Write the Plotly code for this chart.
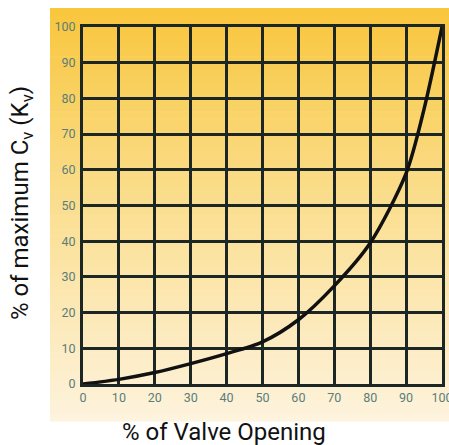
import plotly.graph_objects as go

valve_opening = [0, 10, 20, 30, 40, 50, 60, 70, 80, 90, 95, 100]
cv_percent = [0, 1.3, 3.2, 5.7, 8.5, 11.8, 18, 27.5, 39.5, 59, 77, 100]
tick_vals = [0, 10, 20, 30, 40, 50, 60, 70, 80, 90, 100]
tick_text = [str(v) for v in tick_vals]

W, H = 449, 445
L, R, T, B = 83, 7, 27, 61
pw, ph = W - L - R, H - T - B

def px_to_paper_x(px):
    return (px - L) / pw

def px_to_paper_y(py):
    return (H - B - py) / ph

fig = go.Figure()
fig.add_trace(go.Scatter(
    x=valve_opening, y=cv_percent, mode="lines",
    line=dict(color="#111111", width=3.5, shape="spline", smoothing=0.8),
    hoverinfo="skip", showlegend=False,
))

# gradient background (top orange-yellow -> bottom pale cream)
top_c = (249, 199, 62)
mid_c = (251, 224, 148)
bot_c = (254, 243, 220)
y_top, y_bot = 8, 421
n = 60
shapes = []
for i in range(n):
    t = i / (n - 1)
    if t < 0.5:
        u = t / 0.5
        c = tuple(int(top_c[k] + (mid_c[k] - top_c[k]) * u) for k in range(3))
    else:
        u = (t - 0.5) / 0.5
        c = tuple(int(mid_c[k] + (bot_c[k] - mid_c[k]) * u) for k in range(3))
    py0 = y_top + (y_bot - y_top) * i / n
    py1 = y_top + (y_bot - y_top) * (i + 1) / n + 0.6
    shapes.append(dict(
        type="rect", xref="paper", yref="paper", layer="below",
        x0=px_to_paper_x(50), x1=px_to_paper_x(460),
        y0=px_to_paper_y(py1), y1=px_to_paper_y(py0),
        fillcolor="rgb(%d,%d,%d)" % c, line=dict(width=0),
    ))

tick_font = dict(family="Roboto, Liberation Sans, sans-serif",
                 size=12.5, color="#5a7d7a")
grid_color = "#1c2624"
title_font = dict(family="Roboto, Liberation Sans, sans-serif", size=24, color="#111111")

fig.update_layout(
    width=W, height=H,
    margin=dict(l=L, r=R, t=T, b=B),
    paper_bgcolor="white", plot_bgcolor="rgba(0,0,0,0)",
    shapes=shapes,
    xaxis=dict(range=[0, 100], tickvals=tick_vals, ticktext=tick_text,
               showgrid=True, gridcolor=grid_color, gridwidth=3,
               zeroline=False, showline=True, linecolor=grid_color, linewidth=3, mirror=True,
               ticks="", tickfont=tick_font, ticklabelstandoff=0, ticklabeloverflow="allow",
               automargin=False, fixedrange=True),
    yaxis=dict(range=[0, 100], tickvals=tick_vals, ticktext=tick_text,
               showgrid=True, gridcolor=grid_color, gridwidth=3,
               zeroline=False, showline=True, linecolor=grid_color, linewidth=3, mirror=True,
               ticks="", tickfont=tick_font, ticklabelstandoff=2, ticklabeloverflow="allow",
               automargin=False, fixedrange=True),
    annotations=[
        dict(text="% of Valve Opening", xref="paper", yref="paper",
             x=px_to_paper_x(224), y=px_to_paper_y(432), xanchor="center", yanchor="middle",
             showarrow=False, font=title_font),
        dict(text="% of maximum C<sub>v</sub> (K<sub>v</sub>)", xref="paper", yref="paper",
             x=px_to_paper_x(21), y=px_to_paper_y(203), xanchor="center", yanchor="middle",
             textangle=-90, showarrow=False, font=title_font),
    ],
)

fig.write_html("out.html", config={"displayModeBar": False},
               post_script="document.body.style.margin='0px';document.body.style.overflow='hidden';")
